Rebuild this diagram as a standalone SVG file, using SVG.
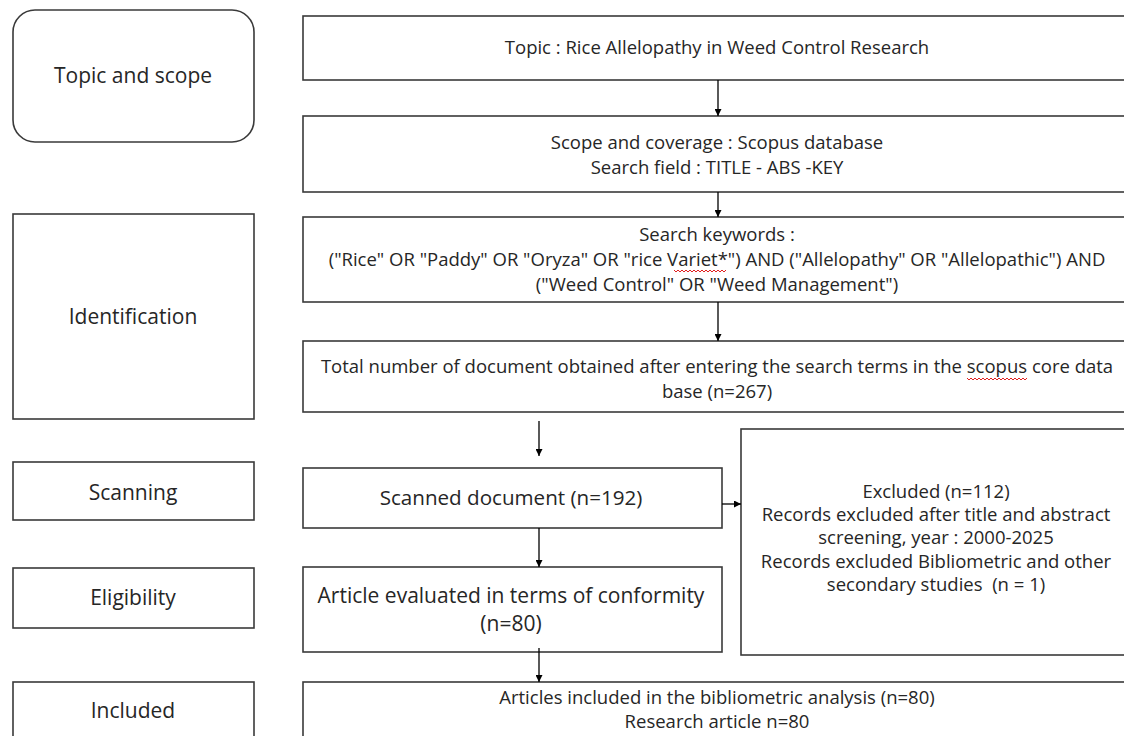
<svg xmlns="http://www.w3.org/2000/svg" width="1124" height="736" viewBox="0 0 1124 736">
<style>
.box{fill:#fff;stroke:#3a3a3a;stroke-width:1.6}
.lab{font-family:"Open Sans","Noto Sans",sans-serif;font-size:21px;fill:#262626;text-anchor:middle}
.t{font-family:"Open Sans","Noto Sans",sans-serif;font-size:18.5px;fill:#262626;text-anchor:middle}
.c{fill:none;stroke:#000;stroke-width:1.3}
.sq{fill:none;stroke:#e02020;stroke-width:1}
</style>
<defs>
<marker id="ah" viewBox="0 0 10 10" refX="10" refY="5" markerWidth="7" markerHeight="7" markerUnits="userSpaceOnUse" orient="auto">
<path d="M0,0 L10,5 L0,10 z" fill="#000"/>
</marker>
</defs>
<rect width="1124" height="736" fill="#fff"/>
<g id="stage-topic"><rect class="box" x="13" y="10" width="241" height="132" rx="22"/><text class="lab" x="133" y="83">Topic and scope</text></g>
<g id="stage-identification"><rect class="box" x="13" y="214" width="241" height="205"/><text class="lab" x="133" y="324">Identification</text></g>
<g id="stage-scanning"><rect class="box" x="13" y="462" width="241" height="58"/><text class="lab" x="133" y="500">Scanning</text></g>
<g id="stage-eligibility"><rect class="box" x="13" y="568" width="241" height="60"/><text class="lab" x="133" y="605">Eligibility</text></g>
<g id="stage-included"><rect class="box" x="13" y="682" width="241" height="80"/><text class="lab" x="133" y="718">Included</text></g>

<g id="topic"><rect class="box" x="303" y="16" width="828" height="64"/><text class="t" x="717" y="54">Topic : Rice Allelopathy in Weed Control Research</text></g>
<g id="scope"><rect class="box" x="303" y="116" width="828" height="76"/><text class="t" x="717" y="149">Scope and coverage : Scopus database</text><text class="t" x="717" y="174">Search field : TITLE - ABS -KEY</text></g>
<g id="keywords"><rect class="box" x="303" y="217" width="828" height="85"/><text class="t" x="717" y="241">Search keywords :</text><text class="t" x="717" y="266">("Rice" OR "Paddy" OR "Oryza" OR "rice Variet*") AND ("Allelopathy" OR "Allelopathic") AND</text><text class="t" x="717" y="291">("Weed Control" OR "Weed Management")</text><path class="sq" d="M674,270 l2,2 l2,-2 l2,2 l2,-2 l2,2 l2,-2 l2,2 l2,-2 l2,2 l2,-2 l2,2 l2,-2 l2,2 l2,-2 l2,2 l2,-2 l2,2 l2,-2 l2,2 l2,-2 l2,2 l2,-2 l2,2 l2,-2 l2,2 l2,-2"/></g>
<g id="total"><rect class="box" x="303" y="341" width="828" height="71"/><text class="t" x="717" y="373">Total number of document obtained after entering the search terms in the scopus core data</text><text class="t" x="717" y="398">base (n=267)</text><path class="sq" d="M967,378 l2,2 l2,-2 l2,2 l2,-2 l2,2 l2,-2 l2,2 l2,-2 l2,2 l2,-2 l2,2 l2,-2 l2,2 l2,-2 l2,2 l2,-2 l2,2 l2,-2 l2,2 l2,-2 l2,2 l2,-2 l2,2 l2,-2 l2,2 l2,-2 l2,2 l2,-2 l2,2 l2,-2"/></g>
<g id="scanned"><rect class="box" x="303" y="468" width="419" height="60"/><text class="t" x="511" y="505" style="font-size:20.6px">Scanned document (n=192)</text></g>
<g id="evaluated"><rect class="box" x="303" y="567" width="419" height="85"/><text class="t" x="511" y="603" style="font-size:21px">Article evaluated in terms of conformity</text><text class="t" x="511" y="631" style="font-size:21px">(n=80)</text></g>
<g id="excluded"><rect class="box" x="741" y="429" width="390" height="226"/>
<text class="t" x="936" y="498">Excluded (n=112)</text>
<text class="t" x="936" y="521">Records excluded after title and abstract</text>
<text class="t" x="936" y="544">screening, year : 2000-2025</text>
<text class="t" x="936" y="568">Records excluded Bibliometric and other</text>
<text class="t" x="936" y="591">secondary studies&#160; (n = 1)</text></g>
<g id="included"><rect class="box" x="303" y="682" width="828" height="80"/><text class="t" x="717" y="704">Articles included in the bibliometric analysis (n=80)</text><text class="t" x="717" y="728">Research article n=80</text></g>

<g id="connectors">
<line class="c" x1="718" y1="80" x2="718" y2="116" marker-end="url(#ah)"/>
<line class="c" x1="718" y1="192" x2="718" y2="217" marker-end="url(#ah)"/>
<line class="c" x1="718" y1="302" x2="718" y2="341" marker-end="url(#ah)"/>
<line class="c" x1="539" y1="421" x2="539" y2="456" marker-end="url(#ah)"/>
<line class="c" x1="539" y1="528" x2="539" y2="567" marker-end="url(#ah)"/>
<line class="c" x1="539" y1="648" x2="539" y2="682" marker-end="url(#ah)"/>
<line class="c" x1="722" y1="504" x2="741" y2="504" marker-end="url(#ah)"/>
</g>
</svg>
